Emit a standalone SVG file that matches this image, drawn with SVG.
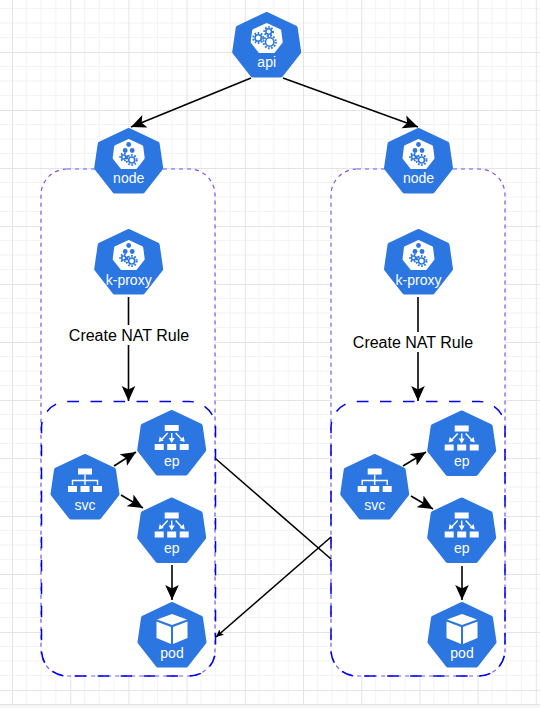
<svg xmlns="http://www.w3.org/2000/svg" width="540" height="708" viewBox="0 0 540 708">
<style>
.lbl{font-family:"Liberation Sans",Arial,sans-serif;font-size:14px;fill:#fff;text-anchor:middle}
.note{font-family:"Liberation Sans",Arial,sans-serif;font-size:16px;fill:#000;text-anchor:middle}
.hex{fill:#2b76e0;stroke:#2b76e0;stroke-width:5;stroke-linejoin:round}
.inner{fill:#fff;stroke:#fff;stroke-width:3;stroke-linejoin:round}
.conn{fill:none;stroke:#000;stroke-width:1.600}
.outer{fill:#fff;stroke:#6a5cf0;stroke-width:1.2;stroke-dasharray:4 4}
.svcbox{fill:none;stroke:#0000f0;stroke-width:1.5;stroke-dasharray:11.500 11.500}
.w{fill:#fff}
.ws{fill:none;stroke:#fff;stroke-width:1.4}
.gear{fill:#fff;stroke:#2b76e0;stroke-width:1.6}
.teeth{fill:none;stroke:#2b76e0;stroke-width:2;stroke-dasharray:1.6 1.6}
.bd{fill:#2b76e0}
</style>
<defs>
<pattern id="grid" x="12" y="52" width="58.200" height="58" patternUnits="userSpaceOnUse">
<path d="M14.500 0V58M29 0V58M43.700 0V58M0 14.500H59M0 29H59M0 43.500H59" fill="none" stroke="#f3f3f3" stroke-width="1"/>
<path d="M0.500 0V58M0 0.500H59" fill="none" stroke="#e4e4e4" stroke-width="1"/>
</pattern>
<marker id="arrow" markerWidth="16" markerHeight="16" refX="15" refY="8" orient="auto" markerUnits="userSpaceOnUse">
<path d="M0 1.200L15 8L0 14.800L3.500 8Z" fill="#000"/>
</marker>
<marker id="arrowS" markerWidth="9" markerHeight="8" refX="7.500" refY="4" orient="auto" markerUnits="userSpaceOnUse">
<path d="M0 0.500L7.500 4L0 7.500L1.500 4Z" fill="#000"/>
</marker>
<path id="hept" class="hex" d="M0 2.500L28.500 16L32 40L14 63H-14L-32 40L-28.500 16Z"/>
<path id="innerH" class="inner" d="M0 12.500L13 18.500L14.500 30L7 39.500H-7L-14.500 30L-13 18.500Z"/>
<g id="gears">
<circle cx="-8.500" cy="26" r="3.200" class="gear"/><circle cx="-8.500" cy="26" r="5" class="teeth"/>
<circle cx="2" cy="19.500" r="2.800" class="gear"/><circle cx="2" cy="19.500" r="4.300" class="teeth"/>
<circle cx="3" cy="30" r="4.200" class="gear"/><circle cx="3" cy="30" r="6.200" class="teeth"/>
</g>
<g id="cluster">
<circle cx="0" cy="16.500" r="2.400" class="bd"/>
<circle cx="-3.500" cy="22.500" r="2.400" class="bd"/>
<circle cx="3.500" cy="22.500" r="2.400" class="bd"/>
<circle cx="-5" cy="29" r="2" class="gear"/><circle cx="-5" cy="29" r="3.400" class="teeth"/>
<circle cx="3" cy="32" r="3" class="gear"/><circle cx="3" cy="32" r="5" class="teeth"/>
</g>
<g id="svcIcon">
<rect x="-7" y="14.500" width="14" height="6" class="w"/>
<path class="ws" d="M0 20.500V26.500M-12.500 31V26.500H12.500V31M0 26.500V31"/>
<rect x="-17" y="32" width="9" height="6" class="w"/>
<rect x="-4.500" y="32" width="9" height="6" class="w"/>
<rect x="8" y="32" width="9" height="6" class="w"/>
</g>
<g id="epIcon">
<rect x="-7" y="15" width="14" height="6" class="w"/>
<path class="ws" d="M-4 23L-10.500 30M0 23V30M4 23L10.500 30"/>
<path class="w" d="M-13 32L-12 26.500L-8 30.500ZM0 33L-3 28H3ZM13 32L12 26.500L8 30.500Z"/>
<rect x="-17" y="34" width="9" height="6" class="w"/>
<rect x="-4.500" y="34" width="9" height="6" class="w"/>
<rect x="8" y="34" width="9" height="6" class="w"/>
</g>
<g id="podIcon">
<path class="w" d="M0 12L15 17.500L0 23L-15 17.500Z"/>
<path class="w" d="M-15.500 19.500L-1 25V42L-15.500 36Z"/>
<path class="w" d="M15.500 19.500L1 25V42L15.500 36Z"/>
</g>
</defs>
<rect width="540" height="708" fill="#fff"/>
<rect width="540" height="704" fill="url(#grid)"/>
<rect y="704" width="540" height="1.500" fill="#e2e2e2"/>
<rect y="705.500" width="540" height="2.500" fill="#f6f6f6"/>

<g id="boundaries">
<rect x="41" y="169" width="174" height="507" rx="26" class="outer"/>
<rect x="331" y="169" width="174" height="507" rx="26" class="outer"/>
<rect x="41.500" y="401.500" width="174" height="274.500" rx="26" class="svcbox"/>
<rect x="331" y="401.500" width="174" height="274.500" rx="26" class="svcbox"/>
</g>

<g id="connectors">
<path class="conn" d="M251 78L131 127" marker-end="url(#arrow)"/>
<path class="conn" d="M283 78L418 127" marker-end="url(#arrow)"/>
<path class="conn" d="M128.500 297V401" marker-end="url(#arrow)"/>
<path class="conn" d="M418 297V401" marker-end="url(#arrow)"/>
<path class="conn" d="M114 466L136 452" marker-end="url(#arrow)"/>
<path class="conn" d="M121 495L143 508" marker-end="url(#arrow)"/>
<path class="conn" d="M172 565V600" marker-end="url(#arrow)"/>
<path class="conn" d="M403 466L426 452" marker-end="url(#arrow)"/>
<path class="conn" d="M411 496L433 509" marker-end="url(#arrow)"/>
<path class="conn" d="M462 566V600" marker-end="url(#arrow)"/>
<path class="conn" d="M216 459L331 559"/>
<path class="conn" d="M331 537L216 637" marker-end="url(#arrowS)"/>
</g>

<g id="label-left"><rect x="67" y="325" width="124" height="20" fill="#fff"/><text class="note" x="129" y="341">Create NAT Rule</text></g>
<g id="label-right"><rect x="351" y="332" width="124" height="20" fill="#fff"/><text class="note" x="413" y="348">Create NAT Rule</text></g>

<g id="node-api" transform="translate(266.700 12)"><use href="#hept"/><use href="#innerH"/><use href="#gears"/><text class="lbl" x="0" y="55">api</text></g>
<g id="node-node-left" transform="translate(128.700 128)"><use href="#hept"/><use href="#innerH"/><use href="#cluster"/><text class="lbl" x="0" y="55">node</text></g>
<g id="node-node-right" transform="translate(418.500 128)"><use href="#hept"/><use href="#innerH"/><use href="#cluster"/><text class="lbl" x="0" y="55">node</text></g>
<g id="node-kproxy-left" transform="translate(128.700 229)"><use href="#hept"/><use href="#innerH"/><use href="#cluster"/><text class="lbl" x="0" y="56">k-proxy</text></g>
<g id="node-kproxy-right" transform="translate(418.500 229)"><use href="#hept"/><use href="#innerH"/><use href="#cluster"/><text class="lbl" x="0" y="56">k-proxy</text></g>
<g id="node-svc-left" transform="translate(85 454)"><use href="#hept"/><use href="#svcIcon"/><text class="lbl" x="0" y="56">svc</text></g>
<g id="node-svc-right" transform="translate(374.700 454)"><use href="#hept"/><use href="#svcIcon"/><text class="lbl" x="0" y="56">svc</text></g>
<g id="node-ep-left-1" transform="translate(171.700 410)"><use href="#hept"/><use href="#epIcon"/><text class="lbl" x="0" y="55.500">ep</text></g>
<g id="node-ep-left-2" transform="translate(171.700 497.500)"><use href="#hept"/><use href="#epIcon"/><text class="lbl" x="0" y="55.500">ep</text></g>
<g id="node-ep-right-1" transform="translate(461.700 410.500)"><use href="#hept"/><use href="#epIcon"/><text class="lbl" x="0" y="55.500">ep</text></g>
<g id="node-ep-right-2" transform="translate(461.700 497.500)"><use href="#hept"/><use href="#epIcon"/><text class="lbl" x="0" y="55.500">ep</text></g>
<g id="node-pod-left" transform="translate(172 602)"><use href="#hept"/><use href="#podIcon"/><text class="lbl" x="0" y="56">pod</text></g>
<g id="node-pod-right" transform="translate(462 602)"><use href="#hept"/><use href="#podIcon"/><text class="lbl" x="0" y="56">pod</text></g>
</svg>
